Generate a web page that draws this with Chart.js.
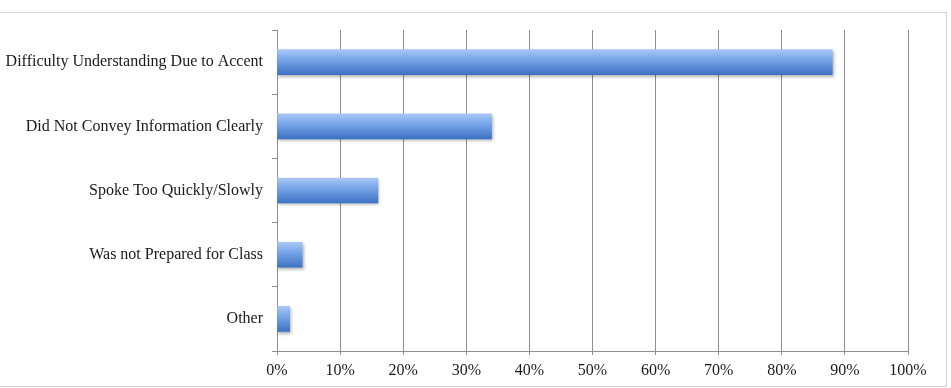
<!DOCTYPE html>
<html>
<head>
<meta charset="utf-8">
<script src="https://cdn.jsdelivr.net/npm/chart.js@4/dist/chart.umd.min.js"></script>
<style>
  body { margin: 0; background: #fff; overflow: hidden; font-family: 'Liberation Serif', serif; }
  #frame { position: absolute; left: -10px; top: 12px; width: 955px; height: 373px; border: 1px solid #d4d4d4; }
  #c { position: absolute; left: 0; top: 0; }
  #warm { position: absolute; left: -999px; top: 0; font: 16px 'Liberation Serif'; }
</style>
</head>
<body>
<div id="frame"></div>
<div id="warm">Other 0%</div>
<canvas id="c" width="951" height="388"></canvas>
<script>
// categories and values
const categories = [
    'Difficulty Understanding Due to Accent',
    'Did Not Convey Information Clearly',
    'Spoke Too Quickly/Slowly',
    'Was not Prepared for Class',
    'Other'
];
const percents = [88, 34, 16, 4, 2];
const xTicks = [0, 10, 20, 30, 40, 50, 60, 70, 80, 90, 100];

const BAR_H = 25;

// blue bar with a lighter top edge, like the office chart
function barFill(context) {
    const chart = context.chart;
    const y = chart.scales && chart.scales.y;
    if (!y) return '#5f8fdc';
    const mid = y.getPixelForValue(context.dataIndex);
    if (!Number.isFinite(mid)) return '#5f8fdc';
    const g = chart.ctx.createLinearGradient(0, mid - BAR_H / 2, 0, mid + BAR_H / 2);
    g.addColorStop(0, '#a9c7f6');
    g.addColorStop(0.35, '#7eaaeb');
    g.addColorStop(1, '#3d72c4');
    return g;
}

// soft drop shadow under the bars
const shadowPlugin = {
    id: 'barShadow',
    beforeDatasetsDraw(chart) {
        const ctx = chart.ctx;
        ctx.save();
        ctx.shadowColor = 'rgba(0,0,0,0.3)';
        ctx.shadowBlur = 3;
        ctx.shadowOffsetX = 1;
        ctx.shadowOffsetY = 2;
    },
    afterDatasetsDraw(chart) {
        chart.ctx.restore();
    }
};

const labelFont = { family: "'Liberation Serif', 'DejaVu Serif', serif", size: 16 };

function draw() {
    new Chart(document.getElementById('c'), {
        type: 'bar',
        data: {
            labels: categories,
            datasets: [{
                data: percents,
                backgroundColor: barFill,
                borderWidth: 0,
                barThickness: BAR_H
            }]
        },
        options: {
            indexAxis: 'y',
            responsive: false,
            animation: false,
            layout: { padding: { top: 30, right: 43, bottom: 0, left: 0 } },
            plugins: {
                legend: { display: false },
                tooltip: { enabled: false }
            },
            scales: {
                x: {
                    min: 0,
                    max: 100,
                    afterBuildTicks: (scale) => { scale.ticks = xTicks.map(v => ({ value: v })); },
                    ticks: {
                        callback: (v) => v + '%',
                        color: '#1a1a1a',
                        font: labelFont,
                        padding: 6,
                        maxRotation: 0
                    },
                    grid: { color: '#8e8e8e', lineWidth: 1, tickLength: 4 },
                    border: { color: '#8e8e8e' },
                    afterFit: (scale) => { scale.height = 37; }
                },
                y: {
                    ticks: { color: '#1a1a1a', font: labelFont, padding: 9 },
                    grid: { drawOnChartArea: false, color: '#8e8e8e', tickLength: 5, offset: true },
                    border: { color: '#8e8e8e' },
                    afterFit: (scale) => { scale.width = 277; }
                }
            }
        },
        plugins: [shadowPlugin]
    });
}

document.fonts.load("16px 'Liberation Serif'").then(draw, draw);
</script>
</body>
</html>
